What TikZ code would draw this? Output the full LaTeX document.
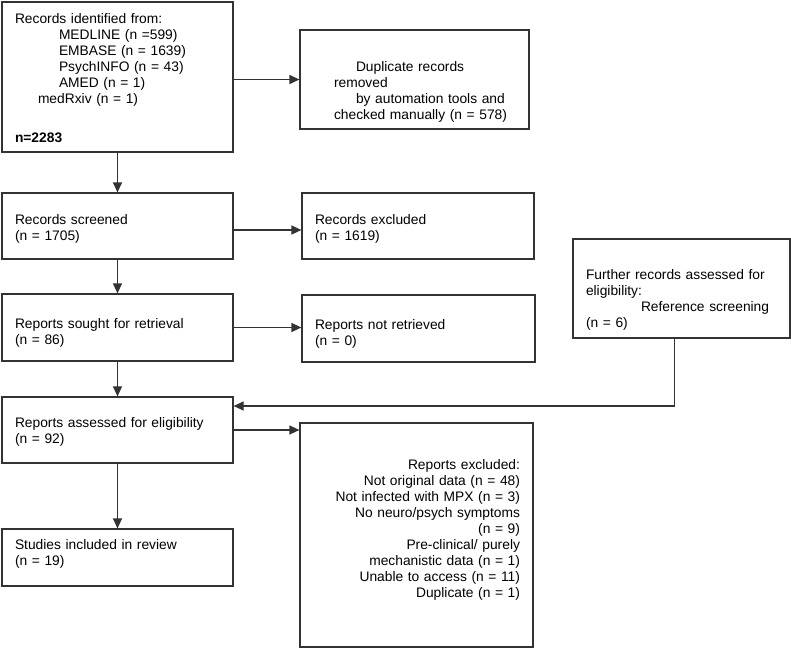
\documentclass[tikz,border=0pt]{standalone}
\usepackage{fontspec}
\setmainfont{Liberation Sans}
\usetikzlibrary{arrows.meta}
\begin{document}
\begin{tikzpicture}[>={Triangle[length=10pt,width=9pt]},x=1pt,y=-1pt,
  box/.style={draw=black!80,line width=1.2pt,inner xsep=13pt,inner ysep=0pt,align=left,
    font=\fontsize{13.8}{16}\selectfont,text=black},
  line/.style={draw=black!80,line width=1.2pt}]
\useasboundingbox (0,0) rectangle (791,648);
% identification
\node[box,text width=205pt,minimum height=150pt](ident) at (117.5,77){\rule{0pt}{12.6pt}Records identified from:\\
  \hspace*{44pt}MEDLINE (n =599)\\
  \hspace*{44pt}EMBASE (n = 1639)\\
  \hspace*{44pt}PsychINFO (n = 43)\\
  \hspace*{44pt}AMED (n = 1)\\
  \hspace*{23pt}medRxiv (n = 1)\\[22.5pt]
  \textbf{n=2283}};
\node[box,text width=203pt,minimum height=99pt](dup) at (414.5,79.5){\rule{0pt}{34pt}\hspace*{43pt}Duplicate records\\
  \hspace*{21pt}removed\\
  \hspace*{43pt}by automation tools and\\
  \hspace*{21pt}checked manually (n = 578)};
% screening
\node[box,text width=205pt,minimum height=66pt](screen) at (117.5,226){\rule{0pt}{16pt}Records screened\\(n = 1705)};
\node[box,text width=206pt,minimum height=66pt](recexcl) at (418,226){\rule{0pt}{16pt}Records excluded\\(n = 1619)};
\node[box,text width=205pt,minimum height=67pt](sought) at (117.5,327.5){\rule{0pt}{20pt}Reports sought for retrieval\\(n = 86)};
\node[box,text width=207pt,minimum height=67pt](notret) at (418.5,328.5){\rule{0pt}{20pt}Reports not retrieved\\(n = 0)};
\node[box,text width=191pt,minimum height=99pt](further) at (681.5,288.5){\rule{0pt}{32pt}Further records assessed for\\
  eligibility:\\
  \hspace*{55pt}Reference screening\\
  (n = 6)};
\node[box,text width=205pt,minimum height=66pt](assessed) at (117.5,430){\rule{0pt}{14pt}Reports assessed for eligibility\\(n = 92)};
\node[box,text width=207pt,minimum height=224pt,align=right](repexcl) at (416.5,535){Reports excluded:\\
  Not original data (n = 48)\\
  Not infected with MPX (n = 3)\\
  No neuro/psych symptoms\\
  (n = 9)\\
  Pre-clinical/ purely\\
  mechanistic data (n = 1)\\
  Unable to access (n = 11)\\
  Duplicate (n = 1)\rule[-13pt]{0pt}{0pt}};
% included
\node[box,text width=205pt,minimum height=57pt](studies) at (117.5,557.5){Studies included in review\\(n = 19)\rule[-10pt]{0pt}{0pt}};
% arrows
\draw[->,line](ident)--(screen);
\draw[->,line](ident.east |- dup.west)--(dup.west);
\draw[->,line]([yshift=-4pt]screen.east)--([yshift=-4pt]screen.east -| recexcl.west);
\draw[->,line](screen)--(sought);
\draw[->,line](sought.east)--(sought.east -| notret.west);
\draw[->,line](sought)--(assessed);
\draw[->,line]([xshift=-7pt]further.south) |- ([yshift=24pt]assessed.east);
\draw[->,line](assessed.east)--(assessed.east -| repexcl.west);
\draw[->,line](assessed)--(studies);
\end{tikzpicture}
\end{document}
